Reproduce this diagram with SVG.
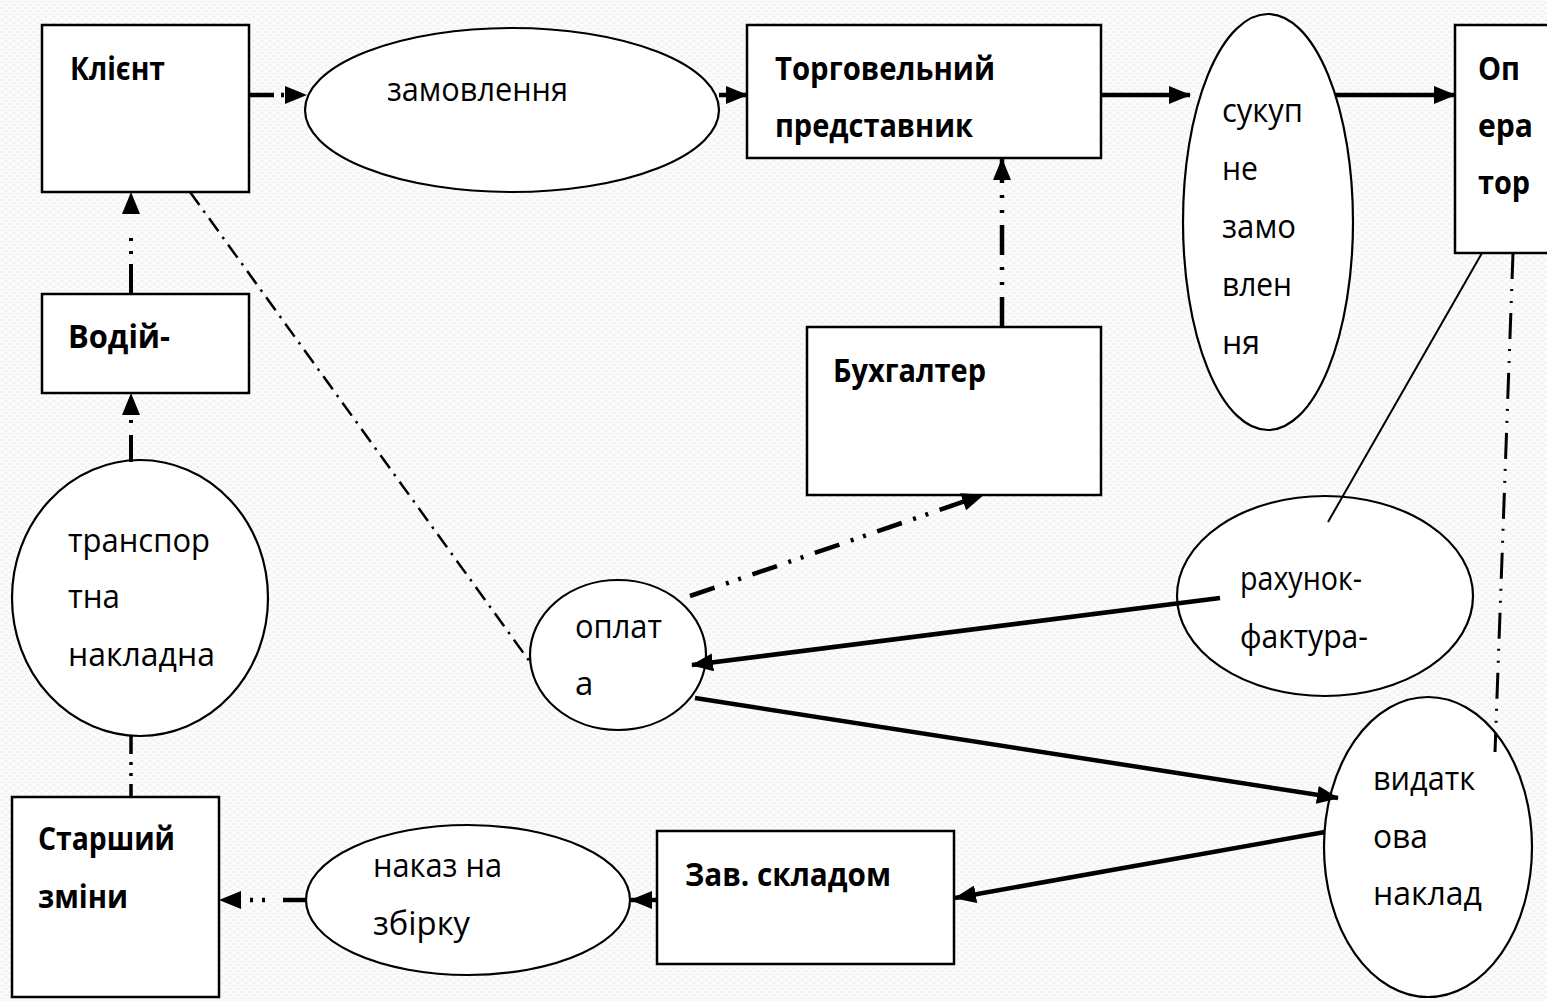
<svg xmlns="http://www.w3.org/2000/svg" width="1547" height="1001" viewBox="0 0 1547 1001">
<style>
.box{fill:#fff;stroke:#000;stroke-width:2.5}
.ell{fill:#fff;stroke:#000;stroke-width:2.2}
.t{font-family:"Open Sans","Liberation Sans",sans-serif;font-size:33px;fill:#000}
.b{font-weight:bold}
.c{fill:none;stroke:#000}
.s{stroke-width:4.5;marker-end:url(#ah)}
</style>
<defs>
<pattern id="bg" width="8" height="6" patternUnits="userSpaceOnUse">
<rect width="8" height="6" fill="#fbfbfb"/>
<ellipse cx="2" cy="2" rx="1.6" ry="0.7" fill="#ececec"/>
<ellipse cx="6" cy="5" rx="1.6" ry="0.7" fill="#ececec"/>
</pattern>
<marker id="ah" markerUnits="userSpaceOnUse" markerWidth="22" markerHeight="18" refX="21" refY="9" orient="auto">
<path d="M0,0 L22,9 L0,18 z" fill="#000"/>
</marker>
</defs>
<rect width="1547" height="1001" fill="url(#bg)"/>

<g id="klient"><rect class="box" x="42" y="25" width="207" height="167"/><text class="t b" x="70" y="80" textLength="95" lengthAdjust="spacingAndGlyphs">Клієнт</text></g>
<g id="zamovlennia"><ellipse class="ell" cx="512" cy="110" rx="207" ry="82"/><text class="t" x="387" y="101" textLength="181" lengthAdjust="spacingAndGlyphs">замовлення</text></g>
<g id="torg"><rect class="box" x="747" y="25" width="354" height="133"/><text class="t b" x="775" y="80" textLength="220" lengthAdjust="spacingAndGlyphs">Торговельний</text><text class="t b" x="775" y="137" textLength="198" lengthAdjust="spacingAndGlyphs">представник</text></g>
<g id="sukupne"><ellipse class="ell" cx="1268" cy="222" rx="85" ry="208"/><text class="t" x="1222" y="122" textLength="81" lengthAdjust="spacingAndGlyphs">сукуп</text><text class="t" x="1222" y="180" textLength="36" lengthAdjust="spacingAndGlyphs">не</text><text class="t" x="1222" y="238" textLength="74" lengthAdjust="spacingAndGlyphs">замо</text><text class="t" x="1222" y="296" textLength="70" lengthAdjust="spacingAndGlyphs">влен</text><text class="t" x="1222" y="354" textLength="38" lengthAdjust="spacingAndGlyphs">ня</text></g>
<g id="operator"><rect class="box" x="1455" y="25" width="110" height="228"/><text class="t b" x="1478" y="80" textLength="42" lengthAdjust="spacingAndGlyphs">Оп</text><text class="t b" x="1478" y="137" textLength="55" lengthAdjust="spacingAndGlyphs">ера</text><text class="t b" x="1478" y="194" textLength="52" lengthAdjust="spacingAndGlyphs">тор</text></g>
<g id="vodii"><rect class="box" x="42" y="294" width="207" height="99"/><text class="t b" x="68" y="348" textLength="102" lengthAdjust="spacingAndGlyphs">Водій-</text></g>
<g id="transport"><ellipse class="ell" cx="140" cy="598" rx="128" ry="138"/><text class="t" x="68" y="552" textLength="142" lengthAdjust="spacingAndGlyphs">транспор</text><text class="t" x="68" y="608" textLength="52" lengthAdjust="spacingAndGlyphs">тна</text><text class="t" x="68" y="666" textLength="147" lengthAdjust="spacingAndGlyphs">накладна</text></g>
<g id="buh"><rect class="box" x="807" y="327" width="294" height="168"/><text class="t b" x="833" y="382" textLength="153" lengthAdjust="spacingAndGlyphs">Бухгалтер</text></g>
<g id="oplata"><ellipse class="ell" cx="618" cy="655" rx="88" ry="75"/><text class="t" x="575" y="638" textLength="87" lengthAdjust="spacingAndGlyphs">оплат</text><text class="t" x="575" y="695">а</text></g>
<g id="rahunok"><ellipse class="ell" cx="1325" cy="596" rx="148" ry="100"/><text class="t" x="1240" y="590" textLength="122" lengthAdjust="spacingAndGlyphs">рахунок-</text><text class="t" x="1240" y="648" textLength="128" lengthAdjust="spacingAndGlyphs">фактура-</text></g>
<g id="vydatkova"><ellipse class="ell" cx="1428" cy="847" rx="104" ry="150"/><text class="t" x="1373" y="790" textLength="102" lengthAdjust="spacingAndGlyphs">видатк</text><text class="t" x="1373" y="848" textLength="55" lengthAdjust="spacingAndGlyphs">ова</text><text class="t" x="1373" y="905" textLength="109" lengthAdjust="spacingAndGlyphs">наклад</text></g>
<g id="starshyi"><rect class="box" x="12" y="797" width="207" height="200"/><text class="t b" x="38" y="850" textLength="137" lengthAdjust="spacingAndGlyphs">Старший</text><text class="t b" x="38" y="908" textLength="90" lengthAdjust="spacingAndGlyphs">зміни</text></g>
<g id="nakaz"><ellipse class="ell" cx="468" cy="900" rx="162" ry="75"/><text class="t" x="373" y="877" textLength="129" lengthAdjust="spacingAndGlyphs">наказ на</text><text class="t" x="373" y="935" textLength="97" lengthAdjust="spacingAndGlyphs">збірку</text></g>
<g id="zav"><rect class="box" x="657" y="831" width="297" height="133"/><text class="t b" x="685" y="886" textLength="206" lengthAdjust="spacingAndGlyphs">Зав. складом</text></g>

<g id="connectors">
<line class="c" x1="249" y1="95" x2="306" y2="95" stroke-width="4.5" stroke-dasharray="25 7 3 40" marker-end="url(#ah)"/>
<line class="c s" x1="719" y1="95" x2="747" y2="95"/>
<line class="c s" x1="1101" y1="95" x2="1190" y2="95"/>
<line class="c s" x1="1335" y1="95" x2="1455" y2="95"/>
<line class="c" x1="131" y1="294" x2="131" y2="193" stroke-width="4" stroke-dasharray="30 10 3 10 3 60" marker-end="url(#ah)"/>
<line class="c" x1="131" y1="462" x2="131" y2="394" stroke-width="4" stroke-dasharray="27 12 3 60" marker-end="url(#ah)"/>
<line class="c" x1="131" y1="736" x2="131" y2="797" stroke-width="3.5" stroke-dasharray="18 8 3 8 3 8"/>
<line class="c" x1="307" y1="900" x2="220" y2="900" stroke-width="4.5" stroke-dasharray="24 18 3 9 3 60" marker-end="url(#ah)"/>
<line class="c s" x1="657" y1="900" x2="631" y2="900"/>
<line class="c s" x1="1325" y1="832" x2="955" y2="898"/>
<line class="c" x1="1002" y1="327" x2="1002" y2="159" stroke-width="4.5" stroke-dasharray="30 12 3 12 3 12" marker-end="url(#ah)"/>
<line class="c" x1="690" y1="596" x2="983" y2="495" stroke-width="4.5" stroke-dasharray="26 12 3 10 3 12" marker-end="url(#ah)"/>
<line class="c s" x1="1220" y1="598" x2="692" y2="665"/>
<line class="c s" x1="695" y1="698" x2="1338" y2="798"/>
<line class="c" x1="1482" y1="253" x2="1328" y2="522" stroke-width="2"/>
<line class="c" x1="1513" y1="253" x2="1495" y2="752" stroke-width="3" stroke-dasharray="26 10 2 10 2 10"/>
<line class="c" x1="190" y1="192" x2="530" y2="662" stroke-width="2.5" stroke-dasharray="16 7 2.5 7"/>
</g>
</svg>
